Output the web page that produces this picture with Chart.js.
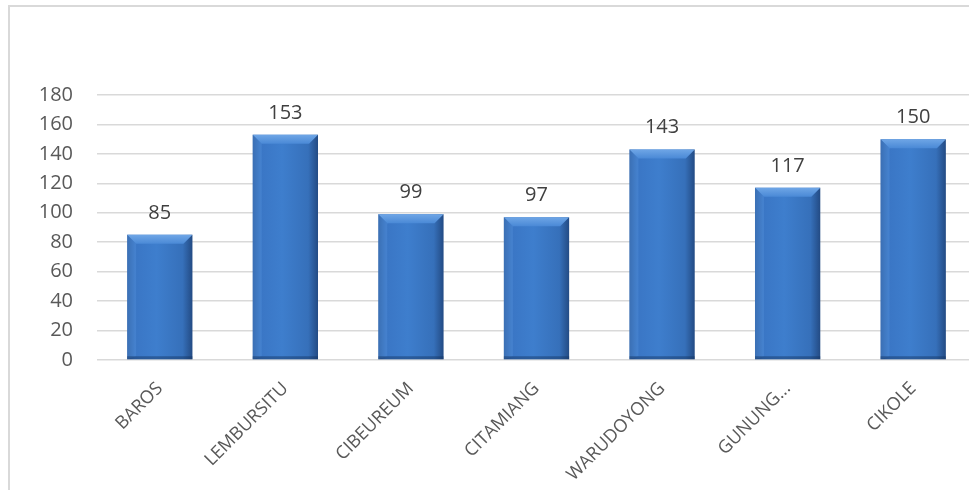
<!DOCTYPE html>
<html>
<head>
<meta charset="utf-8">
<script src="https://cdn.jsdelivr.net/npm/chart.js@4"></script>
<style>
  html, body { margin: 0; padding: 0; background: #fff; overflow: hidden; }
  #wrap { position: relative; width: 969px; height: 490px; overflow: hidden; }
  #frame { position: absolute; left: 8px; top: 5px; width: 1100px; height: 600px; border: 2px solid #d9d9d9; box-sizing: border-box; }
  #box { position: absolute; left: 0; top: 0; width: 982px; height: 490px; }
</style>
</head>
<body>
<div id="wrap">
  <div id="frame"></div>
  <div id="box"><canvas id="c"></canvas></div>
</div>
<script>
// data
const categories = ['BAROS', 'LEMBURSITU', 'CIBEUREUM', 'CITAMIANG', 'WARUDOYONG', 'GUNUNG...', 'CIKOLE'];
const values = [85, 153, 99, 97, 143, 117, 150];
const yTicks = [0, 20, 40, 60, 80, 100, 120, 140, 160, 180];

const FONT = '"Open Sans", sans-serif';
const BAR_PCT = 0.52;

// horizontal shading per bar, so it looks like the office 3D-ish bar
function barFill(ctx) {
    const chart = ctx.chart;
    const xs = chart.scales.x;
    if (!xs || !chart.chartArea) return '#3a75c4';
    const cx = xs.getPixelForValue(ctx.dataIndex);
    const w = xs.width / categories.length * BAR_PCT;
    const g = chart.ctx.createLinearGradient(cx - w / 2, 0, cx + w / 2, 0);
    g.addColorStop(0, '#2b5c9f');
    g.addColorStop(0.12, '#3a76c5');
    g.addColorStop(0.45, '#3e7ecd');
    g.addColorStop(0.85, '#3670ba');
    g.addColorStop(1, '#234b84');
    return g;
}

// top bevel + value labels
const barDeco = {
    id: 'barDeco',
    afterDatasetsDraw(chart) {
        const c = chart.ctx;
        const meta = chart.getDatasetMeta(0);
        meta.data.forEach((el, i) => {
            const l = el.x - el.width / 2, r = el.x + el.width / 2;
            const t = el.y, b = el.base;
            const bev = 9;
            c.save();
            // top bevel
            const gt = c.createLinearGradient(0, t, 0, t + bev);
            gt.addColorStop(0, '#6fa6e6');
            gt.addColorStop(1, '#4a89d6');
            c.fillStyle = gt;
            c.beginPath();
            c.moveTo(l, t); c.lineTo(r, t); c.lineTo(r - bev, t + bev); c.lineTo(l + bev, t + bev); c.closePath();
            c.fill();
            // left edge lighter strip
            c.fillStyle = 'rgba(90,150,220,0.35)';
            c.beginPath();
            c.moveTo(l, t); c.lineTo(l + bev, t + bev); c.lineTo(l + bev, b - 3); c.lineTo(l, b); c.closePath();
            c.fill();
            // bottom dark edge
            c.fillStyle = 'rgba(20,50,95,0.45)';
            c.fillRect(l, b - 3, el.width, 3);
            c.restore();

            c.save();
            c.fillStyle = '#404040';
            c.font = '20px ' + FONT;
            c.textAlign = 'center';
            c.textBaseline = 'alphabetic';
            c.fillText(String(values[i]), el.x, t - 16);
            c.restore();
        });
    }
};

new Chart(document.getElementById('c'), {
    type: 'bar',
    data: {
        labels: categories,
        datasets: [{
            data: values,
            backgroundColor: barFill,
            borderWidth: 0,
            barPercentage: BAR_PCT,
            categoryPercentage: 1
        }]
    },
    options: {
        responsive: true,
        maintainAspectRatio: false,
        animation: false,
        layout: { padding: { top: 95, right: 6, left: 0, bottom: 0 } },
        plugins: { legend: { display: false }, tooltip: { enabled: false } },
        scales: {
            x: {
                grid: { display: false },
                border: { display: false },
                ticks: {
                    color: '#595959',
                    font: { family: FONT, size: 18 },
                    minRotation: 45,
                    maxRotation: 45,
                    autoSkip: false,
                    padding: 10
                },
                afterFit(s) { s.height = 130; }
            },
            y: {
                min: 0,
                max: 180,
                afterBuildTicks(s) { s.ticks = yTicks.map(v => ({ value: v })); },
                grid: { color: '#d9d9d9', lineWidth: 1.5, drawTicks: false },
                border: { display: false },
                ticks: {
                    color: '#595959',
                    font: { family: FONT, size: 20 },
                    padding: 24
                },
                afterFit(s) { s.width = 97; }
            }
        }
    },
    plugins: [barDeco]
});
</script>
</body>
</html>
